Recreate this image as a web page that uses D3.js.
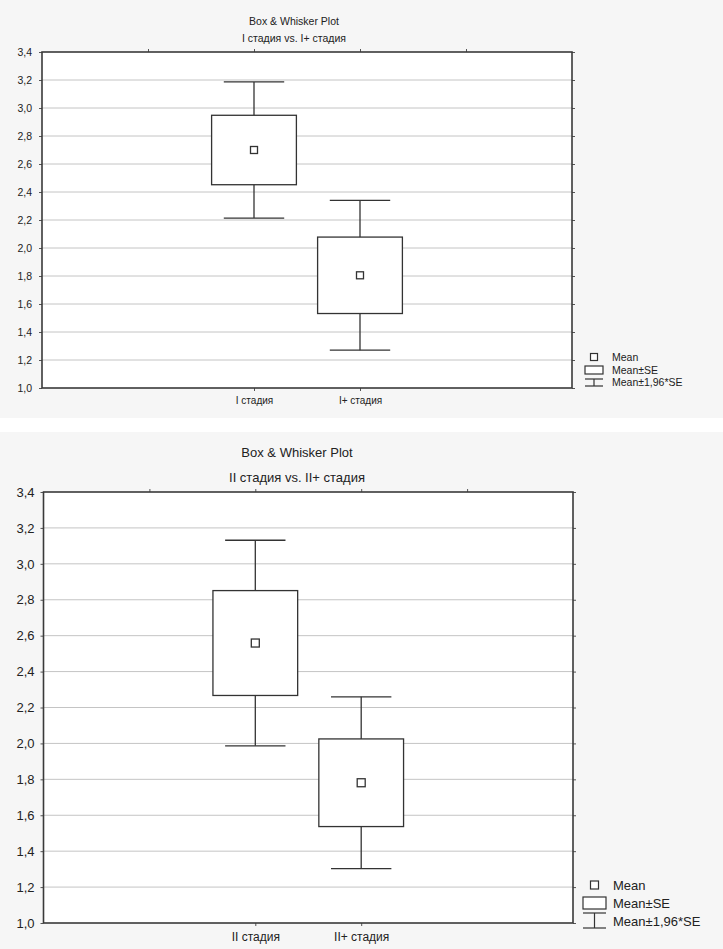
<!DOCTYPE html>
<html>
<head>
<meta charset="utf-8">
<script src="https://cdn.jsdelivr.net/npm/d3@7"></script>
<style>
  html, body { margin: 0; padding: 0; background: #ffffff; }
  svg { display: block; font-family: "Liberation Sans", Arial, sans-serif; }
</style>
</head>
<body>
<svg id="fig" width="723" height="949"></svg>
<script>
// Group means and standard errors for each comparison
const categoriesTop = ["I стадия", "I+ стадия"];
const meansTop = [2.70, 1.805];
const seTop = [0.248, 0.273];

const categoriesBottom = ["II стадия", "II+ стадия"];
const meansBottom = [2.559, 1.781];
const seBottom = [0.292, 0.244];

const yTicks = [1.0, 1.2, 1.4, 1.6, 1.8, 2.0, 2.2, 2.4, 2.6, 2.8, 3.0, 3.2, 3.4];
const titleLine1 = "Box & Whisker Plot";
const titleTop = "I стадия vs. I+ стадия";
const titleBottom = "II стадия vs. II+ стадия";
const legendLabels = ["Mean", "Mean±SE", "Mean±1,96*SE"];
const zFactor = 1.96;

const svg = d3.select("#fig");
const fmt = v => d3.format(".1f")(v).replace(".", ",");

function drawPanel(cfg) {
  const g = svg.append("g");

  // panel background
  g.append("rect")
    .attr("x", 0).attr("y", cfg.panelTop)
    .attr("width", 723).attr("height", cfg.panelHeight)
    .attr("fill", "#f6f6f6");

  const x = d3.scaleLinear().domain([-1, 4]).range([cfg.left, cfg.right]);
  const y = d3.scaleLinear().domain([1.0, 3.4]).range([cfg.bottom, cfg.top]);
  const unit = x(1) - x(0);

  // plot area
  g.append("rect")
    .attr("x", cfg.left).attr("y", cfg.top)
    .attr("width", cfg.right - cfg.left).attr("height", cfg.bottom - cfg.top)
    .attr("fill", "#ffffff");

  // horizontal grid
  g.append("g").selectAll("line").data(yTicks.slice(1, -1)).join("line")
    .attr("x1", cfg.left).attr("x2", cfg.right)
    .attr("y1", d => y(d)).attr("y2", d => y(d))
    .attr("stroke", "#c4c4c4").attr("stroke-width", 1);

  // left axis with labels
  const yAxis = d3.axisLeft(y).tickValues(yTicks).tickFormat(fmt).tickSize(3).tickPadding(cfg.labelPad);
  const ya = g.append("g").attr("transform", `translate(${cfg.left},0)`).call(yAxis);
  ya.select(".domain").remove();
  ya.selectAll("line").attr("stroke", "#555");
  ya.selectAll("text").attr("font-size", cfg.tickFont).attr("fill", "#222")
    .attr("font-family", "Liberation Sans, Arial, sans-serif");

  // right-side tick marks
  const yr = g.append("g").attr("transform", `translate(${cfg.right},0)`)
    .call(d3.axisRight(y).tickValues(yTicks).tickFormat("").tickSize(3));
  yr.select(".domain").remove();
  yr.selectAll("line").attr("stroke", "#555");

  // top tick marks
  const xt = g.append("g").attr("transform", `translate(0,${cfg.top})`)
    .call(d3.axisTop(x).tickValues([0, 1, 2, 3]).tickFormat("").tickSize(3));
  xt.select(".domain").remove();
  xt.selectAll("line").attr("stroke", "#555");

  // bottom axis with category labels
  const xb = g.append("g").attr("transform", `translate(0,${cfg.bottom})`)
    .call(d3.axisBottom(x).tickValues([1, 2]).tickFormat(d => cfg.categories[d - 1]).tickSize(3).tickPadding(cfg.xLabelPad));
  xb.select(".domain").remove();
  xb.selectAll("line").attr("stroke", "#555");
  xb.selectAll("text").attr("font-size", cfg.catFont).attr("fill", "#222")
    .attr("font-family", "Liberation Sans, Arial, sans-serif");

  // frame
  g.append("rect")
    .attr("x", cfg.left).attr("y", cfg.top)
    .attr("width", cfg.right - cfg.left).attr("height", cfg.bottom - cfg.top)
    .attr("fill", "none").attr("stroke", "#3a3a3a").attr("stroke-width", 1.6);

  // box & whisker marks
  const data = cfg.categories.map((c, i) => ({ pos: i + 1, mean: cfg.means[i], se: cfg.se[i] }));
  const boxW = 0.8 * unit;
  const capW = 0.57 * unit;
  const marks = g.append("g").selectAll("g").data(data).join("g");

  marks.append("line")
    .attr("x1", d => x(d.pos)).attr("x2", d => x(d.pos))
    .attr("y1", d => y(d.mean + zFactor * d.se)).attr("y2", d => y(d.mean - zFactor * d.se))
    .attr("stroke", "#333").attr("stroke-width", 1.3);
  marks.append("line")
    .attr("x1", d => x(d.pos) - capW / 2).attr("x2", d => x(d.pos) + capW / 2)
    .attr("y1", d => y(d.mean + zFactor * d.se)).attr("y2", d => y(d.mean + zFactor * d.se))
    .attr("stroke", "#333").attr("stroke-width", 1.3);
  marks.append("line")
    .attr("x1", d => x(d.pos) - capW / 2).attr("x2", d => x(d.pos) + capW / 2)
    .attr("y1", d => y(d.mean - zFactor * d.se)).attr("y2", d => y(d.mean - zFactor * d.se))
    .attr("stroke", "#333").attr("stroke-width", 1.3);
  marks.append("rect")
    .attr("x", d => x(d.pos) - boxW / 2)
    .attr("y", d => y(d.mean + d.se))
    .attr("width", boxW)
    .attr("height", d => y(d.mean - d.se) - y(d.mean + d.se))
    .attr("fill", "#ffffff").attr("stroke", "#333").attr("stroke-width", 1.3);
  marks.append("rect")
    .attr("x", d => x(d.pos) - cfg.markSize / 2)
    .attr("y", d => y(d.mean) - cfg.markSize / 2)
    .attr("width", cfg.markSize).attr("height", cfg.markSize)
    .attr("fill", "#ffffff").attr("stroke", "#333").attr("stroke-width", 1.3);

  // titles
  g.append("text").attr("x", cfg.titleX).attr("y", cfg.title1Y)
    .attr("text-anchor", "middle").attr("font-size", cfg.titleFont).attr("fill", "#222")
    .text(titleLine1);
  g.append("text").attr("x", cfg.titleX).attr("y", cfg.title2Y)
    .attr("text-anchor", "middle").attr("font-size", cfg.titleFont).attr("fill", "#222")
    .text(cfg.title);

  // legend
  const L = cfg.legend;
  const lg = g.append("g");
  lg.append("rect")
    .attr("x", L.iconX - cfg.markSize / 2).attr("y", L.rowY[0] - cfg.markSize / 2)
    .attr("width", cfg.markSize).attr("height", cfg.markSize)
    .attr("fill", "#fff").attr("stroke", "#333").attr("stroke-width", 1.2);
  lg.append("rect")
    .attr("x", L.iconX - L.iconW / 2).attr("y", L.rowY[1] - L.boxH / 2)
    .attr("width", L.iconW).attr("height", L.boxH)
    .attr("fill", "#fff").attr("stroke", "#333").attr("stroke-width", 1.2);
  // whisker icon: I-beam
  const wTop = L.rowY[2] - L.whiskUp;
  const wBot = L.rowY[2] + L.whiskDown;
  lg.append("line")
    .attr("x1", L.iconX).attr("x2", L.iconX)
    .attr("y1", wTop).attr("y2", wBot)
    .attr("stroke", "#333").attr("stroke-width", 1.2);
  lg.selectAll("line.cap").data([wTop, wBot]).join("line").attr("class", "cap")
    .attr("x1", L.iconX - L.iconW / 2).attr("x2", L.iconX + L.iconW / 2)
    .attr("y1", d => d).attr("y2", d => d)
    .attr("stroke", "#333").attr("stroke-width", 1.2);
  lg.selectAll("text").data(legendLabels).join("text")
    .attr("x", L.textX).attr("y", (d, i) => L.rowY[i])
    .attr("dy", "0.35em")
    .attr("font-size", cfg.legendFont).attr("fill", "#222")
    .text(d => d);
}

drawPanel({
  panelTop: 0, panelHeight: 418,
  left: 42, right: 572, top: 52, bottom: 388,
  categories: categoriesTop, means: meansTop, se: seTop,
  title: titleTop, titleX: 294, title1Y: 25, title2Y: 42, titleFont: 10.5,
  tickFont: 10.5, labelPad: 7, catFont: 10, xLabelPad: 6,
  markSize: 7,
  legendFont: 10.5,
  legend: { iconX: 594, iconW: 18, boxH: 8, whiskUp: 3, whiskDown: 4, textX: 612, rowY: [357, 370, 382] }
});

drawPanel({
  panelTop: 432, panelHeight: 517,
  left: 43.5, right: 573, top: 492, bottom: 923,
  categories: categoriesBottom, means: meansBottom, se: seBottom,
  title: titleBottom, titleX: 297, title1Y: 457, title2Y: 482, titleFont: 13,
  tickFont: 13, labelPad: 6, catFont: 12, xLabelPad: 6,
  markSize: 8,
  legendFont: 13,
  legend: { iconX: 594.5, iconW: 23, boxH: 12, whiskUp: 8, whiskDown: 7, textX: 613, rowY: [885, 903, 921] }
});
</script>
</body>
</html>
